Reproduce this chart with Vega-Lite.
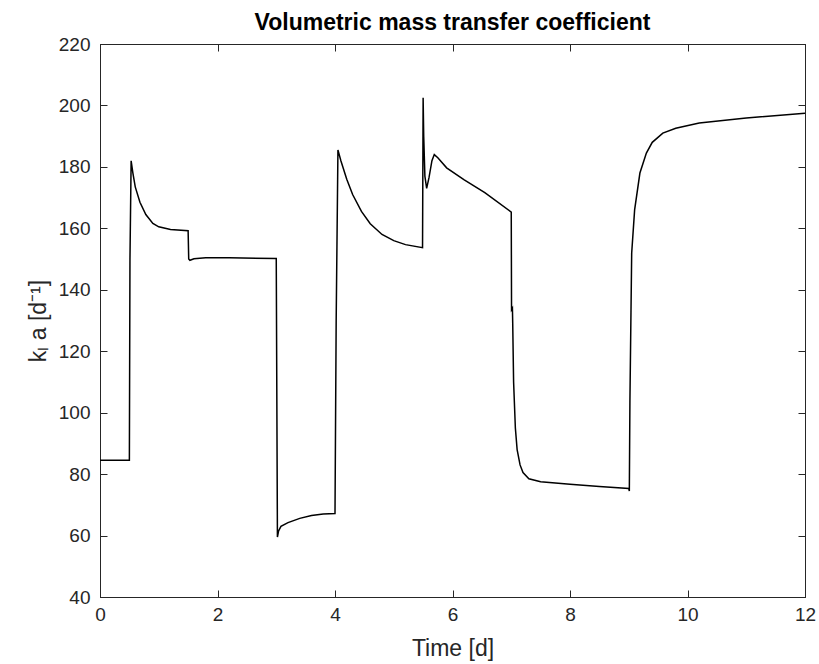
{
  "$schema": "https://vega.github.io/schema/vega-lite/v6.json",
  "width": 705,
  "height": 553,
  "autosize": "none",
  "padding": {"left": 100, "top": 44, "right": 14, "bottom": 67},
  "background": "white",
  "title": {"text": "Volumetric mass transfer coefficient", "fontSize": 23, "fontWeight": "bold", "font": "Liberation Sans", "color": "#000000", "anchor": "middle", "offset": 0},
  "config": {
    "font": "Liberation Sans",
    "view": {"stroke": "#262626", "strokeWidth": 1},
    "axis": {"grid": false, "domainColor": "#262626", "tickColor": "#262626", "labelColor": "#262626", "titleColor": "#262626", "labelFontSize": 19, "titleFontSize": 23, "titleFontWeight": "normal", "tickSize": -7, "labelFlush": false, "labelFont": "Liberation Sans", "titleFont": "Liberation Sans"}
  },
  "data": {"values": [
    {"t": 0, "v": 84.5}, {"t": 0.5, "v": 84.5}, {"t": 0.51, "v": 150}, {"t": 0.53, "v": 182}, {"t": 0.56, "v": 178}, {"t": 0.6, "v": 173.5}, {"t": 0.68, "v": 168.5}, {"t": 0.78, "v": 164.5}, {"t": 0.9, "v": 161.6}, {"t": 1.0, "v": 160.5}, {"t": 1.2, "v": 159.6}, {"t": 1.5, "v": 159.2},
    {"t": 1.51, "v": 150}, {"t": 1.53, "v": 149.6}, {"t": 1.6, "v": 150.1}, {"t": 1.8, "v": 150.4}, {"t": 2.2, "v": 150.4}, {"t": 3.0, "v": 150.2},
    {"t": 3.02, "v": 59.5}, {"t": 3.04, "v": 61.5}, {"t": 3.08, "v": 63}, {"t": 3.2, "v": 64.2}, {"t": 3.4, "v": 65.6}, {"t": 3.6, "v": 66.5}, {"t": 3.8, "v": 67}, {"t": 4.0, "v": 67.2},
    {"t": 4.02, "v": 130}, {"t": 4.05, "v": 185.5}, {"t": 4.1, "v": 182}, {"t": 4.2, "v": 176}, {"t": 4.3, "v": 171}, {"t": 4.45, "v": 165.5}, {"t": 4.6, "v": 161.5}, {"t": 4.8, "v": 158}, {"t": 5.0, "v": 156}, {"t": 5.2, "v": 154.7}, {"t": 5.49, "v": 153.7},
    {"t": 5.5, "v": 202.5}, {"t": 5.51, "v": 190}, {"t": 5.53, "v": 177}, {"t": 5.56, "v": 173}, {"t": 5.6, "v": 176.5}, {"t": 5.65, "v": 182}, {"t": 5.69, "v": 184}, {"t": 5.75, "v": 183}, {"t": 5.9, "v": 179.7}, {"t": 6.2, "v": 175.8}, {"t": 6.55, "v": 171.6}, {"t": 7.0, "v": 165.3},
    {"t": 7.005, "v": 133.5}, {"t": 7.02, "v": 134}, {"t": 7.025, "v": 129}, {"t": 7.04, "v": 110}, {"t": 7.07, "v": 95}, {"t": 7.1, "v": 88}, {"t": 7.15, "v": 83}, {"t": 7.2, "v": 80.5}, {"t": 7.3, "v": 78.5}, {"t": 7.5, "v": 77.5}, {"t": 8.0, "v": 76.7}, {"t": 8.5, "v": 76}, {"t": 9.0, "v": 75.3},
    {"t": 9.01, "v": 74.5}, {"t": 9.02, "v": 104}, {"t": 9.05, "v": 152}, {"t": 9.1, "v": 166}, {"t": 9.19, "v": 178}, {"t": 9.3, "v": 184.5}, {"t": 9.4, "v": 188}, {"t": 9.58, "v": 191}, {"t": 9.8, "v": 192.6}, {"t": 10.2, "v": 194.3}, {"t": 11.0, "v": 195.9}, {"t": 12.0, "v": 197.5}
  ]},
  "layer": [
    {
      "mark": {"type": "line", "color": "#000000", "strokeWidth": 1.5, "clip": true},
      "encoding": {
        "x": {"field": "t", "type": "quantitative", "scale": {"domain": [0, 12], "nice": false, "zero": false}, "axis": {"title": "Time [d]", "values": [0, 2, 4, 6, 8, 10, 12], "labelPadding": 15, "titlePadding": 13}},
        "y": {"field": "v", "type": "quantitative", "scale": {"domain": [40, 220], "nice": false, "zero": false}, "axis": {"title": "k\u2097 a [d\u207B\u00B9]", "values": [40, 60, 80, 100, 120, 140, 160, 180, 200, 220], "labelPadding": 17, "titlePadding": 8}}
      }
    },
    {
      "mark": {"type": "line", "opacity": 0},
      "encoding": {
        "x": {"field": "t", "type": "quantitative", "axis": {"orient": "top", "title": null, "labels": false, "values": [0, 2, 4, 6, 8, 10, 12]}},
        "y": {"field": "v", "type": "quantitative", "axis": {"orient": "right", "title": null, "labels": false, "values": [40, 60, 80, 100, 120, 140, 160, 180, 200, 220]}}
      }
    }
  ],
  "resolve": {"axis": {"x": "independent", "y": "independent"}}
}
